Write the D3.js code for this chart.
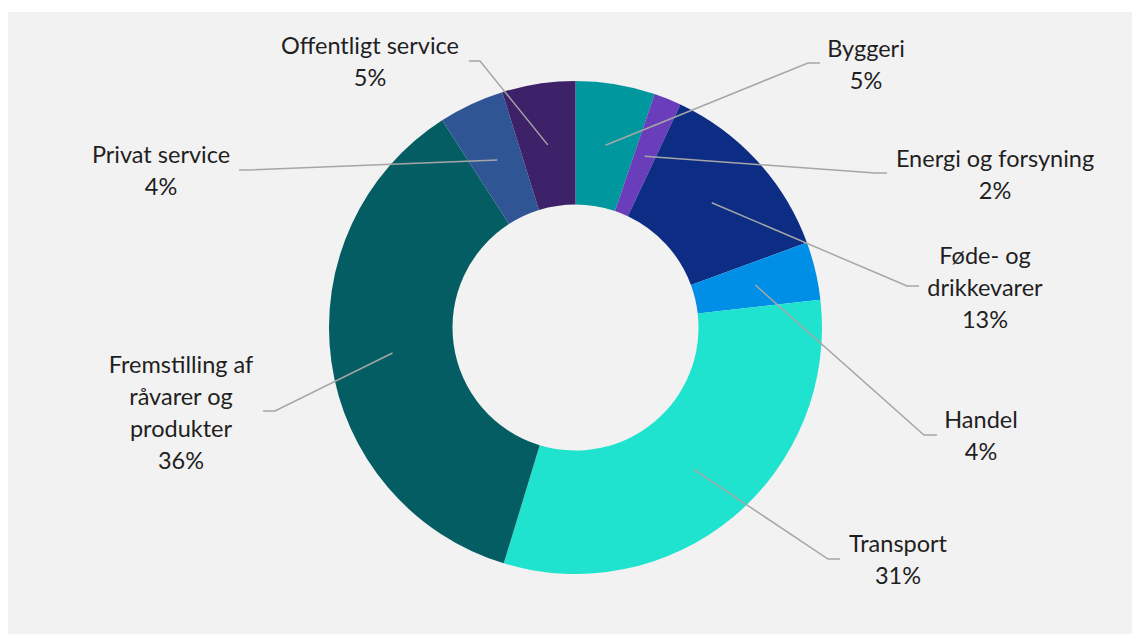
<!DOCTYPE html>
<html>
<head>
<meta charset="utf-8">
<script src="https://cdn.jsdelivr.net/npm/d3@7/dist/d3.min.js"></script>
<style>
  html, body { margin: 0; padding: 0; background: #ffffff; }
  svg { display: block; }
  text { font-family: "Lato", "Open Sans", sans-serif; font-weight: 400; fill: #1f1f1f; }
</style>
</head>
<body>
<svg id="chart" width="1132" height="634"></svg>
<script>
// ---- data ----
const categories = ["Byggeri", "Energi og forsyning", "Føde- og drikkevarer", "Handel", "Transport", "Fremstilling af råvarer og produkter", "Privat service", "Offentligt service"];
const values = [5.2, 1.8, 12.4, 3.8, 31.5, 36.2, 4.3, 4.8];
const percentLabels = ["5%", "2%", "13%", "4%", "31%", "36%", "4%", "5%"];
const labelLines = [
  ["Byggeri"],
  ["Energi og forsyning"],
  ["Føde- og", "drikkevarer"],
  ["Handel"],
  ["Transport"],
  ["Fremstilling af", "råvarer og", "produkter"],
  ["Privat service"],
  ["Offentligt service"]
];
const colors = ["#00979F", "#6A3DBB", "#0D2C84", "#008FE6", "#1FE3CF", "#045D63", "#2F5594", "#3D2169"];

// ---- layout (label placement) ----
const cx = 575.5, cy = 327.5, outerR = 246.5, innerR = 123;
// text center x, first baseline y, leader elbow x, elbow y, leader end x
const labelLayout = [
  { tx: 866, ty: 57,  ex: 808, ey: 63,  lx: 820 },
  { tx: 995, ty: 167, ex: 875, ey: 173, lx: 887 },
  { tx: 985, ty: 264, ex: 907, ey: 286, lx: 919 },
  { tx: 981, ty: 428, ex: 924, ey: 435, lx: 937 },
  { tx: 898, ty: 552, ex: 828, ey: 559, lx: 840 },
  { tx: 181, ty: 373, ex: 275, ey: 411, lx: 263 },
  { tx: 161, ty: 163, ex: 250, ey: 170, lx: 239 },
  { tx: 370, ty: 54,  ex: 480, ey: 61,  lx: 469 }
];
const lineHeight = 32;

const svg = d3.select("#chart");
svg.append("rect").attr("x", 8).attr("y", 12).attr("width", 1124).attr("height", 622).attr("fill", "#f2f2f2");

const data = categories.map((c, i) => ({ name: c, value: values[i], color: colors[i], pct: percentLabels[i], lines: labelLines[i], layout: labelLayout[i] }));

const pie = d3.pie().value(d => d.value).sort(null);
const arc = d3.arc().innerRadius(innerR).outerRadius(outerR);
const arcs = pie(data);

const g = svg.append("g").attr("transform", `translate(${cx},${cy})`);
g.selectAll("path.slice")
  .data(arcs)
  .join("path")
  .attr("class", "slice")
  .attr("d", arc)
  .attr("fill", d => d.data.color);

// leader lines
const lines = svg.append("g");
arcs.forEach(a => {
  const [px, py] = arc.centroid(a);
  const L = a.data.layout;
  lines.append("polyline")
    .attr("points", `${cx + px},${cy + py} ${L.ex},${L.ey} ${L.lx},${L.ey}`)
    .attr("fill", "none")
    .attr("stroke", "#a6a6a6")
    .attr("stroke-width", 1.5);
});

// labels
const labels = svg.append("g");
arcs.forEach(a => {
  const L = a.data.layout;
  const allLines = a.data.lines.concat([a.data.pct]);
  const t = labels.append("text")
    .attr("text-anchor", "middle")
    .attr("font-size", "23.5px");
  allLines.forEach((s, i) => {
    t.append("tspan").attr("x", L.tx).attr("y", L.ty + i * lineHeight).text(s);
  });
});
</script>
</body>
</html>
